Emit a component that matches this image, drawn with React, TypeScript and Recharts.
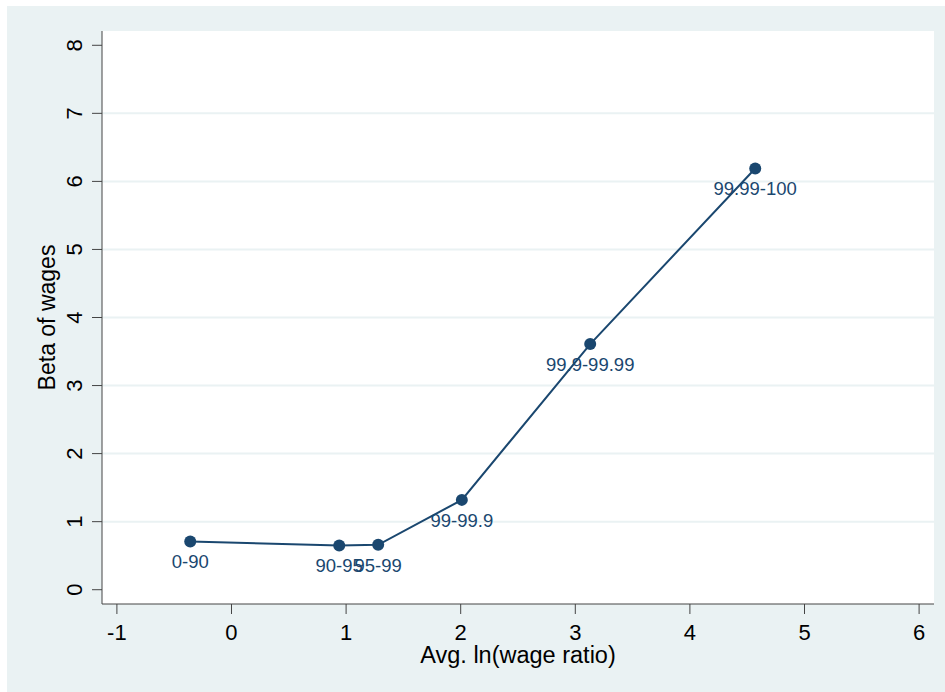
import {
  LineChart,
  Line,
  XAxis,
  YAxis,
  CartesianGrid,
  LabelList,
} from 'recharts';

// percentile groups and their values
const groups = ['0-90', '90-95', '95-99', '99-99.9', '99.9-99.99', '99.99-100'];
const avgLnWageRatio = [-0.36, 0.94, 1.28, 2.01, 3.13, 4.57];
const betaOfWages = [0.71, 0.65, 0.66, 1.32, 3.61, 6.19];

const xTicks = [-1, 0, 1, 2, 3, 4, 5, 6];
const yTicks = [0, 1, 2, 3, 4, 5, 6, 7, 8];
const gridValues = [1, 2, 3, 4, 5, 6, 7];

const FONT = '"Liberation Sans", Arial, sans-serif';
const NAVY = '#1a476f';
const AXIS = '#444';

const chartData = groups.map((g, i) => ({
  label: g,
  x: avgLnWageRatio[i],
  y: betaOfWages[i],
}));

// y tick labels are rotated like Stata's
const YTick = ({ x, y, payload }: any) => (
  <text
    transform={`translate(${x - 8},${y}) rotate(-90)`}
    textAnchor="middle"
    fontSize={22}
    fontFamily={FONT}
    fill="#000"
  >
    {payload.value}
  </text>
);

const XTick = ({ x, y, payload }: any) => (
  <text x={x} y={y + 24} textAnchor="middle" fontSize={22} fontFamily={FONT} fill="#000">
    {payload.value}
  </text>
);

// marker label under each point
const PointLabel = ({ x, y, value }: any) => (
  <text x={x} y={y + 27} textAnchor="middle" fontSize={18.5} fontFamily={FONT} fill={NAVY}>
    {value}
  </text>
);

const XTitle = ({ viewBox }: any) => (
  <text
    x={viewBox.x + viewBox.width / 2}
    y={viewBox.y + 59}
    textAnchor="middle"
    fontSize={23.5}
    fontFamily={FONT}
    fill="#000"
  >
    Avg. ln(wage ratio)
  </text>
);

const YTitle = ({ viewBox }: any) => (
  <text
    transform={`translate(48,${viewBox.y + viewBox.height / 2}) rotate(-90)`}
    textAnchor="middle"
    fontSize={23}
    fontFamily={FONT}
    fill="#000"
  >
    Beta of wages
  </text>
);

export default function App() {
  return (
    <div
      style={{
        position: 'absolute',
        left: 7,
        top: 6,
        width: 938,
        height: 686,
        background: '#EAF2F3',
      }}
    >
      <LineChart
        width={938}
        height={686}
        data={chartData}
        margin={{ top: 25, right: 11, bottom: 0, left: 0 }}
      >
        <CartesianGrid
          vertical={false}
          horizontalValues={gridValues}
          fill="#fff"
          stroke="#EAF2F3"
          strokeWidth={2}
        />
        <XAxis
          type="number"
          dataKey="x"
          domain={[-1.13, 6.13]}
          allowDataOverflow
          ticks={xTicks}
          height={88}
          tickSize={10}
          tickMargin={2}
          tick={<XTick />}
          axisLine={{ stroke: AXIS }}
          tickLine={{ stroke: AXIS }}
          label={<XTitle />}
        />
        <YAxis
          type="number"
          domain={[-0.21, 8.21]}
          allowDataOverflow
          ticks={yTicks}
          width={95}
          tickSize={10}
          tickMargin={2}
          tick={<YTick />}
          axisLine={{ stroke: AXIS }}
          tickLine={{ stroke: AXIS }}
          label={<YTitle />}
        />
        <Line
          type="linear"
          dataKey="y"
          stroke={NAVY}
          strokeWidth={2}
          dot={{ r: 6, fill: NAVY, stroke: NAVY, strokeWidth: 0 }}
          isAnimationActive={false}
        >
          <LabelList dataKey="label" content={<PointLabel />} />
        </Line>
      </LineChart>
    </div>
  );
}
